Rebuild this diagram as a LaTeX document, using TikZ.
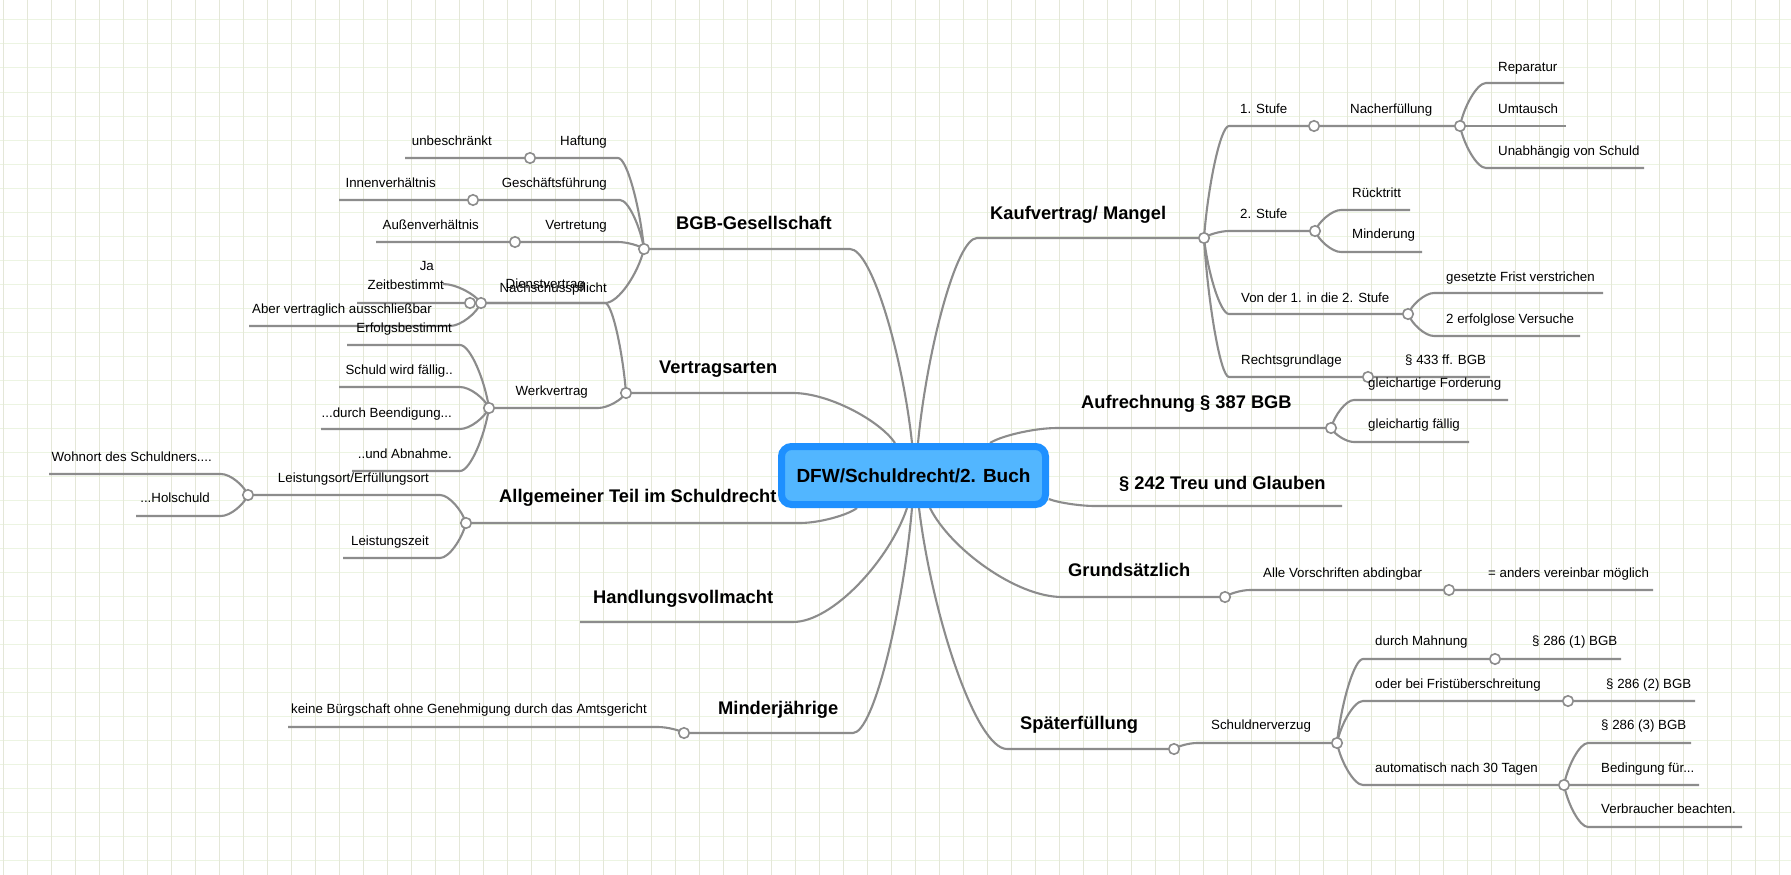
\documentclass[tikz,border=0pt]{standalone}
\usepackage{fontspec}
\setmainfont{Liberation Sans}
\usetikzlibrary{calc}
\definecolor{linegray}{RGB}{140,140,140}
\definecolor{gridv}{RGB}{228,231,216}
\definecolor{gridh}{RGB}{236,244,226}
\definecolor{rootfill}{RGB}{82,182,255}
\definecolor{rootline}{RGB}{30,144,255}
\pgfdeclarelayer{bg}
\pgfsetlayers{bg,main}

\begin{document}
\begin{tikzpicture}[x=1pt,y=-1pt,
  link/.style={draw=linegray,line width=2.1pt,line join=round},
  conn/.style={to path={let \p1=(\tikztostart),\p2=(\tikztotarget) in
    .. controls (0.85*\x1+0.15*\x2,0.55*\y1+0.45*\y2) and (0.35*\x1+0.65*\x2,\y2) .. (\tikztotarget)}},
  knob/.style={circle,draw=linegray,fill=white,line width=1.6pt,minimum size=10.5pt,inner sep=0pt},
  leaf/.style={anchor=base west,inner sep=0pt,font=\fontsize{13.3}{15}\selectfont},
  leafl/.style={leaf,anchor=base east},
  topic/.style={anchor=base west,inner sep=0pt,font=\bfseries\fontsize{18.3}{21}\selectfont},
  root/.style={draw=rootline,fill=rootfill,line width=7pt,rounded corners=10pt,
    minimum width=264pt,minimum height=58pt,inner sep=0pt,font=\bfseries\fontsize{19}{22}\selectfont}]
  \useasboundingbox (0,0) rectangle (1791,875);

  \node[root] (root) at (913.5,475.5) {DFW/Schuldrecht/2. Buch};

  % where the branches leave the centre
  \coordinate (r-kauf) at ([xshift=4.5pt]root.north);
  \coordinate (r-aufr) at ([xshift=76.5pt]root.north);
  \coordinate (r-treu) at ([yshift=-23.5pt]root.east);
  \coordinate (r-grund) at ([xshift=16.5pt]root.south);
  \coordinate (r-spaet) at ([xshift=5.5pt]root.south);
  \coordinate (r-bgb) at ([xshift=-1.5pt]root.north);
  \coordinate (r-vart) at ([xshift=-18.5pt]root.north);
  \coordinate (r-allg) at ([xshift=-56.5pt]root.south);
  \coordinate (r-handl) at ([xshift=-6.5pt]root.south);
  \coordinate (r-mjaehr) at ([xshift=-1.5pt]root.south);

  % right side
  \coordinate (kauf-0) at (977,238); \coordinate (kauf) at (1204,238);
  \coordinate (stufe1-0) at (1229,126); \coordinate (stufe1) at (1314,126);
  \coordinate (nacherf) at (1460,126);
  \coordinate (repar-0) at (1486,83); \coordinate (repar) at (1564,83);
  \coordinate (umtausch) at (1566,126);
  \coordinate (unabh-0) at (1486,168); \coordinate (unabh) at (1644,168);
  \coordinate (stufe2-0) at (1229,231); \coordinate (stufe2) at (1315,231);
  \coordinate (ruecktr-0) at (1341,210); \coordinate (ruecktr) at (1410,210);
  \coordinate (minderung-0) at (1341,252); \coordinate (minderung) at (1422,252);
  \coordinate (vonder-0) at (1229,314); \coordinate (vonder) at (1408,314);
  \coordinate (frist-0) at (1434,293); \coordinate (frist) at (1603,293);
  \coordinate (versuche-0) at (1434,336); \coordinate (versuche) at (1580,336);
  \coordinate (rgrund-0) at (1229,377); \coordinate (rgrund) at (1368,377);
  \coordinate (par433) at (1490,377);
  \coordinate (aufr-0) at (1057,428); \coordinate (aufr) at (1331,428);
  \coordinate (gfor-0) at (1354,400); \coordinate (gfor) at (1508,400);
  \coordinate (gfae-0) at (1354,442); \coordinate (gfae) at (1469,442);
  \coordinate (treu-0) at (1095,506); \coordinate (treu) at (1342,506);
  \coordinate (grund-0) at (1062,597); \coordinate (grund) at (1225,597);
  \coordinate (abding-0) at (1250,590); \coordinate (abding) at (1449,590);
  \coordinate (anders) at (1653,590);
  \coordinate (spaet-0) at (1007,749); \coordinate (spaet) at (1174,749);
  \coordinate (verzug-0) at (1197,743); \coordinate (verzug) at (1337,743);
  \coordinate (mahn-0) at (1363,659); \coordinate (mahn) at (1495,659);
  \coordinate (par1) at (1621,659);
  \coordinate (frueb-0) at (1363,701); \coordinate (frueb) at (1568,701);
  \coordinate (par2) at (1695,701);
  \coordinate (auto-0) at (1363,785); \coordinate (auto) at (1564,785);
  \coordinate (par3-0) at (1588,743); \coordinate (par3) at (1691,743);
  \coordinate (beding) at (1699,785);
  \coordinate (verbr-0) at (1588,827); \coordinate (verbr) at (1742,827);

  % left side
  \coordinate (bgb-0) at (850,249); \coordinate (bgb) at (644,249);
  \coordinate (haft-0) at (618,158); \coordinate (haft) at (530,158);
  \coordinate (unbes) at (405,158);
  \coordinate (gfue-0) at (620,200); \coordinate (gfue) at (473,200);
  \coordinate (innen) at (339,200);
  \coordinate (vertr-0) at (618,242); \coordinate (vertr) at (515,242);
  \coordinate (aussen) at (376,242);
  \coordinate (nachsch-0) at (605,303); \coordinate (nachsch) at (481,303);
  \coordinate (ja-0) at (443,284);
  \coordinate (aber-0) at (450,326); \coordinate (aber) at (249,326);
  \coordinate (vart-0) at (793,393); \coordinate (vart) at (626,393);
  \coordinate (dienst-0) at (605,303); \coordinate (dienst) at (470,303);
  \coordinate (zeit) at (357,303);
  \coordinate (werk-0) at (598,408); \coordinate (werk) at (489,408);
  \coordinate (erfolg-0) at (460,345); \coordinate (erfolg) at (347,345);
  \coordinate (faellig-0) at (460,387); \coordinate (faellig) at (339,387);
  \coordinate (beend-0) at (460,429); \coordinate (beend) at (321,429);
  \coordinate (abnahme-0) at (460,471); \coordinate (abnahme) at (352,471);
  \coordinate (allg-0) at (800,523); \coordinate (allg) at (466,523);
  \coordinate (lort-0) at (440,495); \coordinate (lort) at (248,495);
  \coordinate (wohn-0) at (221,474); \coordinate (wohn) at (49,474);
  \coordinate (hol-0) at (221,516); \coordinate (hol) at (136,516);
  \coordinate (lzeit-0) at (440,558); \coordinate (lzeit) at (343,558);
  \coordinate (handl-0) at (793,622); \coordinate (handl) at (580,622);
  \coordinate (mjaehr-0) at (853,733); \coordinate (mjaehr) at (684,733);
  \coordinate (buerg-0) at (658,727); \coordinate (buerg) at (288,727);

  \begin{pgfonlayer}{bg}
    \fill[white] (0,0) rectangle (1791,875);
    \foreach \k in {0,...,35}
      \draw[gridh,line width=1pt] (0,20+24*\k) -- (1791,20+24*\k);
    \foreach \k in {0,...,74}
      \draw[gridv,line width=1pt] (3.3+24*\k,0) -- (3.3+24*\k,875);

    \draw[link] (r-kauf) to[conn] (kauf-0) -- (kauf);
    \draw[link] (kauf) to[conn] (stufe1-0) -- (stufe1) -- (nacherf);
    \draw[link] (nacherf) to[conn] (repar-0) -- (repar);
    \draw[link] (nacherf) -- (umtausch);
    \draw[link] (nacherf) to[conn] (unabh-0) -- (unabh);
    \draw[link] (kauf) to[conn] (stufe2-0) -- (stufe2);
    \draw[link] (stufe2) to[conn] (ruecktr-0) -- (ruecktr);
    \draw[link] (stufe2) to[conn] (minderung-0) -- (minderung);
    \draw[link] (kauf) to[conn] (vonder-0) -- (vonder);
    \draw[link] (vonder) to[conn] (frist-0) -- (frist);
    \draw[link] (vonder) to[conn] (versuche-0) -- (versuche);
    \draw[link] (kauf) to[conn] (rgrund-0) -- (rgrund) -- (par433);
    \draw[link] (r-aufr) to[conn] (aufr-0) -- (aufr);
    \draw[link] (aufr) to[conn] (gfor-0) -- (gfor);
    \draw[link] (aufr) to[conn] (gfae-0) -- (gfae);
    \draw[link] (r-treu) to[conn] (treu-0) -- (treu);
    \draw[link] (r-grund) to[conn] (grund-0) -- (grund);
    \draw[link] (grund) to[conn] (abding-0) -- (abding) -- (anders);
    \draw[link] (r-spaet) to[conn] (spaet-0) -- (spaet);
    \draw[link] (spaet) to[conn] (verzug-0) -- (verzug);
    \draw[link] (verzug) to[conn] (mahn-0) -- (mahn) -- (par1);
    \draw[link] (verzug) to[conn] (frueb-0) -- (frueb) -- (par2);
    \draw[link] (verzug) to[conn] (auto-0) -- (auto) -- (beding);
    \draw[link] (auto) to[conn] (par3-0) -- (par3);
    \draw[link] (auto) to[conn] (verbr-0) -- (verbr);

    \draw[link] (r-bgb) to[conn] (bgb-0) -- (bgb);
    \draw[link] (bgb) to[conn] (haft-0) -- (haft) -- (unbes);
    \draw[link] (bgb) to[conn] (gfue-0) -- (gfue) -- (innen);
    \draw[link] (bgb) to[conn] (vertr-0) -- (vertr) -- (aussen);
    \draw[link] (bgb) to[conn] (nachsch-0) -- (nachsch);
    \draw[link] (nachsch) to[conn] (ja-0);
    \draw[link] (nachsch) to[conn] (aber-0) -- (aber);
    \draw[link] (r-vart) to[conn] (vart-0) -- (vart);
    \draw[link] (vart) to[conn] (dienst-0) -- (dienst) -- (zeit);
    \draw[link] (vart) to[conn] (werk-0) -- (werk);
    \draw[link] (werk) to[conn] (erfolg-0) -- (erfolg);
    \draw[link] (werk) to[conn] (faellig-0) -- (faellig);
    \draw[link] (werk) to[conn] (beend-0) -- (beend);
    \draw[link] (werk) to[conn] (abnahme-0) -- (abnahme);
    \draw[link] (r-allg) to[conn] (allg-0) -- (allg);
    \draw[link] (allg) to[conn] (lort-0) -- (lort);
    \draw[link] (lort) to[conn] (wohn-0) -- (wohn);
    \draw[link] (lort) to[conn] (hol-0) -- (hol);
    \draw[link] (allg) to[conn] (lzeit-0) -- (lzeit);
    \draw[link] (r-handl) to[conn] (handl-0) -- (handl);
    \draw[link] (r-mjaehr) to[conn] (mjaehr-0) -- (mjaehr);
    \draw[link] (mjaehr) to[conn] (buerg-0) -- (buerg);
  \end{pgfonlayer}

  \foreach \j in {kauf,stufe1,nacherf,stufe2,vonder,rgrund,aufr,grund,abding,spaet,
      verzug,mahn,frueb,auto,bgb,haft,gfue,vertr,nachsch,vart,dienst,werk,allg,lort,mjaehr}
    \node[knob] (k-\j) at (\j) {};

  % main topics
  \node[topic] (t-kauf) at (990,219.5) {Kaufvertrag/ Mangel};
  \node[topic] (t-aufr) at (1081,408.5) {Aufrechnung § 387 BGB};
  \node[topic] (t-treu) at (1119,489.5) {§ 242 Treu und Glauben};
  \node[topic] (t-grund) at (1068,576.5) {Grundsätzlich};
  \node[topic] (t-spaet) at (1020,729.5) {Späterfüllung};
  \node[topic] (t-bgb) at (676,229.5) {BGB-Gesellschaft};
  \node[topic] (t-vart) at (659,373.5) {Vertragsarten};
  \node[topic] (t-allg) at (499,502.5) {Allgemeiner Teil im Schuldrecht};
  \node[topic] (t-handl) at (593,603.5) {Handlungsvollmacht};
  \node[topic] (t-mjaehr) at (718,714.5) {Minderjährige};

  % right labels
  \node[leaf] (t-stufe1) at (1240,113) {1. Stufe};
  \node[leaf] (t-nacherf) at (1350,113) {Nacherfüllung};
  \node[leaf] (t-repar) at (1498,72) {Reparatur};
  \node[leaf] (t-umtausch) at (1498,113) {Umtausch};
  \node[leaf] (t-unabh) at (1498,155) {Unabhängig von Schuld};
  \node[leaf] (t-stufe2) at (1240,218) {2. Stufe};
  \node[leaf] (t-ruecktr) at (1352,197) {Rücktritt};
  \node[leaf] (t-minderung) at (1352,238) {Minderung};
  \node[leaf] (t-vonder) at (1241,302) {Von der 1. in die 2. Stufe};
  \node[leaf] (t-frist) at (1446,281) {gesetzte Frist verstrichen};
  \node[leaf] (t-versuche) at (1446,323) {2 erfolglose Versuche};
  \node[leaf] (t-rgrund) at (1241,364) {Rechtsgrundlage};
  \node[leaf] (t-par433) at (1405,364) {§ 433 ff. BGB};
  \node[leaf] (t-gfor) at (1368,387) {gleichartige Forderung};
  \node[leaf] (t-gfae) at (1368,428) {gleichartig fällig};
  \node[leaf] (t-abding) at (1263,577) {Alle Vorschriften abdingbar};
  \node[leaf] (t-anders) at (1488,577) {= anders vereinbar möglich};
  \node[leaf] (t-verzug) at (1211,729) {Schuldnerverzug};
  \node[leaf] (t-mahn) at (1375,645) {durch Mahnung};
  \node[leaf] (t-par1) at (1532,645) {§ 286 (1) BGB};
  \node[leaf] (t-frueb) at (1375,688) {oder bei Fristüberschreitung};
  \node[leaf] (t-par2) at (1606,688) {§ 286 (2) BGB};
  \node[leaf] (t-auto) at (1375,772) {automatisch nach 30 Tagen};
  \node[leaf] (t-par3) at (1601,729) {§ 286 (3) BGB};
  \node[leaf] (t-beding) at (1601,772) {Bedingung für...};
  \node[leaf] (t-verbr) at (1601,813) {Verbraucher beachten.};

  % left labels
  \node[leafl] (t-haft) at (607,145) {Haftung};
  \node[leafl] (t-unbes) at (492,145) {unbeschränkt};
  \node[leafl] (t-gfue) at (607,187) {Geschäftsführung};
  \node[leafl] (t-innen) at (436,187) {Innenverhältnis};
  \node[leafl] (t-vertr) at (607,229) {Vertretung};
  \node[leafl] (t-aussen) at (479,229) {Außenverhältnis};
  \node[leafl] (t-nachsch) at (607,292) {Nachschusspflicht};
  \node[leafl] (t-ja) at (434,270) {Ja};
  \node[leafl] (t-aber) at (432,313) {Aber vertraglich ausschließbar};
  \node[leafl] (t-dienst) at (585,288) {Dienstvertrag};
  \node[leafl] (t-zeit) at (444,289) {Zeitbestimmt};
  \node[leafl] (t-werk) at (588,395) {Werkvertrag};
  \node[leafl] (t-erfolg) at (452,332) {Erfolgsbestimmt};
  \node[leafl] (t-faellig) at (453,374) {Schuld wird fällig..};
  \node[leafl] (t-beend) at (452,417) {...durch Beendigung...};
  \node[leafl] (t-abnahme) at (452,458) {..und Abnahme.};
  \node[leafl] (t-lort) at (429,482) {Leistungsort/Erfüllungsort};
  \node[leafl] (t-wohn) at (212,461) {Wohnort des Schuldners....};
  \node[leafl] (t-hol) at (210,502) {...Holschuld};
  \node[leafl] (t-lzeit) at (429,545) {Leistungszeit};
  \node[leafl] (t-buerg) at (647,713) {keine Bürgschaft ohne Genehmigung durch das Amtsgericht};
\end{tikzpicture}
\end{document}
